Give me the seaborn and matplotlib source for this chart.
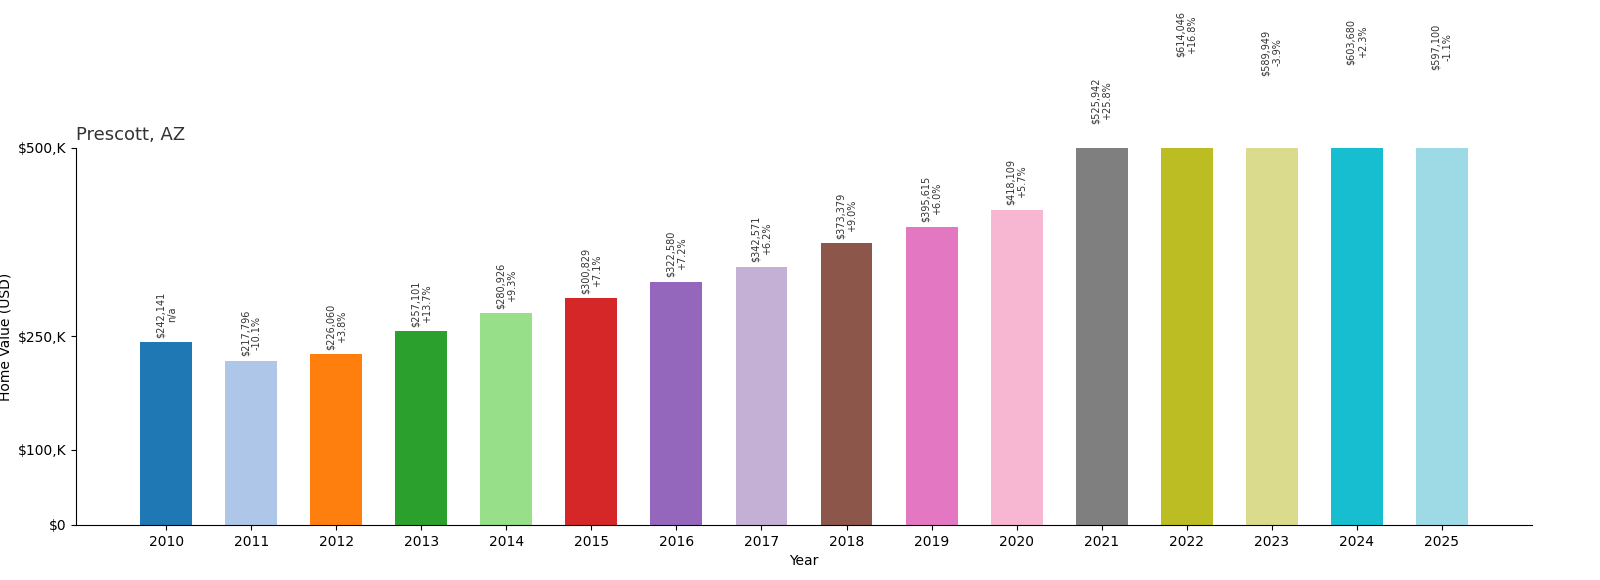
import numpy as np
import pandas as pd
import seaborn as sns
from matplotlib import pyplot as plt
from matplotlib import ticker

years = [2010, 2011, 2012, 2013, 2014, 2015, 2016, 2017,
         2018, 2019, 2020, 2021, 2022, 2023, 2024, 2025]
values = [242141, 217796, 226060, 257101, 280926, 300829, 322580, 342571,
          373379, 395615, 418109, 525942, 614046, 589949, 603680, 597100]
changes = ["n/a", "-10.1%", "+3.8%", "+13.7%", "+9.3%", "+7.1%", "+7.2%", "+6.2%",
           "+9.0%", "+6.0%", "+5.7%", "+25.8%", "+16.8%", "-3.9%", "+2.3%", "-1.1%"]
yticks = [0, 100000, 250000, 500000]
ytick_labels = ["$0", "$100,K", "$250,K", "$500,K"]

df = pd.DataFrame({"Year": [str(y) for y in years], "Value": values})
tab20 = plt.get_cmap("tab20").colors
colors = [tab20[i] for i in [0, 1, 2, 4, 5, 6, 8, 9, 10, 12, 13, 14, 16, 17, 18, 19]]

fig = plt.figure(figsize=(16, 5.8), dpi=100)
ax = fig.add_axes([0.0475, 0.095, 0.91, 0.65])
sns.barplot(data=df, x="Year", y="Value", hue="Year", palette=colors,
            width=0.61, legend=False, ax=ax, saturation=1)

ax.set_ylim(0, 500000)
ax.set_xlim(-1.06, 16.06)
ax.set_yticks(yticks)
ax.set_yticklabels(ytick_labels)
ax.set_xlabel("Year", fontsize=10)
ax.set_ylabel("Home Value (USD)", fontsize=10)
ax.spines["top"].set_visible(False)
ax.spines["right"].set_visible(False)
ax.tick_params(labelsize=10)
ax.set_title("Prescott, AZ", loc="left", fontsize=13, color="#333333")

for i, (v, c) in enumerate(zip(values, changes)):
    ax.text(i, v + 6000, f"${v:,}\n{c}", rotation=90, ha="center", va="bottom",
            fontsize=7, color="#333333", clip_on=False)

fig.savefig("out.png", dpi=100)
